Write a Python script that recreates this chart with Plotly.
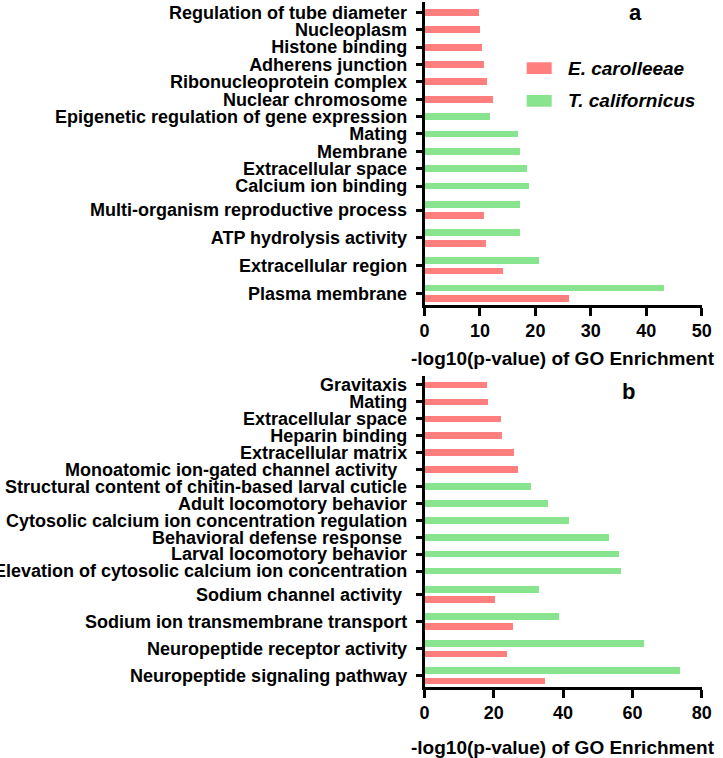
import plotly.graph_objects as go

# ---------------- data ----------------
# Panel a (listed top to bottom)
terms_a = [
    "Regulation of tube diameter", "Nucleoplasm", "Histone binding",
    "Adherens junction", "Ribonucleoprotein complex", "Nuclear chromosome",
    "Epigenetic regulation of gene expression", "Mating", "Membrane",
    "Extracellular space", "Calcium ion binding",
    "Multi-organism reproductive process", "ATP hydrolysis activity",
    "Extracellular region", "Plasma membrane",
]
ec_a = [9.8, 10.0, 10.3, 10.6, 11.2, 12.3, None, None, None, None, None,
        10.6, 11.0, 14.0, 26.0]
tc_a = [None, None, None, None, None, None, 11.7, 16.7, 17.1, 18.4, 18.75,
        17.1, 17.1, 20.5, 43.1]
ticks_a = [0, 10, 20, 30, 40, 50]

# Panel b (listed top to bottom)
terms_b = [
    "Gravitaxis", "Mating", "Extracellular space", "Heparin binding",
    "Extracellular matrix", "Monoatomic ion-gated channel activity\u00a0\u00a0",
    "Structural content of chitin-based larval cuticle",
    "Adult locomotory behavior",
    "Cytosolic calcium ion concentration regulation",
    "Behavioral defense response\u00a0", "Larval locomotory behavior",
    "Elevation of cytosolic calcium ion concentration",
    "Sodium channel activity\u00a0", "Sodium ion transmembrane transport",
    "Neuropeptide receptor activity", "Neuropeptide signaling pathway",
]
ec_b = [18.0, 18.2, 21.8, 22.3, 25.8, 26.8, None, None, None, None, None, None,
        20.2, 25.3, 23.7, 34.6]
tc_b = [None, None, None, None, None, None, 30.7, 35.5, 41.5, 53.0, 55.9, 56.6,
        32.9, 38.6, 63.2, 73.5]
ticks_b = [0, 20, 40, 60, 80]

series_names = ["E. carolleeae", "T. californicus"]
RED = "#FF7F7F"
GREEN = "#88E48E"

# ---------------- layout helpers ----------------
W, H = 723, 758
PAIR_STEP, MIX_STEP, SINGLE_STEP = 1.6, 1.38, 1.0
BAR_W, PAIR_OFF = 0.39, 0.31
FONT = "Liberation Sans, Arial, Helvetica, sans-serif"


def positions(ec, tc):
    n = len(ec)
    pair = [(e is not None and t is not None) for e, t in zip(ec, tc)]
    pos = [0.0] * n
    cur = 0.0
    for i in range(n - 1, -1, -1):
        if i < n - 1:
            if pair[i] and pair[i + 1]:
                cur += PAIR_STEP
            elif pair[i] != pair[i + 1]:
                cur += MIX_STEP
            else:
                cur += SINGLE_STEP
        pos[i] = cur
    return pos, pair


def series_y(vals, pos, pair, off):
    xs, ys = [], []
    for v, p, pr in zip(vals, pos, pair):
        if v is None:
            continue
        xs.append(v)
        ys.append(p + off if pr else p)
    return xs, ys


fig = go.Figure()

panels = [
    dict(terms=terms_a, ec=ec_a, tc=tc_a, ticks=ticks_a, xa="x", ya="y",
         dom_y=(2, 305), top_pad=0.6, label="a", lab_xy=(635, 13),
         title_off=53),
    dict(terms=terms_b, ec=ec_b, tc=tc_b, ticks=ticks_b, xa="x2", ya="y2",
         dom_y=(376, 687), top_pad=0.53, label="b", lab_xy=(628, 391),
         title_off=60),
]

x_dom = [424.5 / W, 701.7 / W]

for k, p in enumerate(panels):
    pos, pair = positions(p["ec"], p["tc"])
    xg, yg = series_y(p["tc"], pos, pair, +PAIR_OFF)
    xr, yr = series_y(p["ec"], pos, pair, -PAIR_OFF)
    fig.add_trace(go.Bar(x=xr, y=yr, orientation="h", width=BAR_W,
                         marker=dict(color=RED, line=dict(width=0)),
                         name=series_names[0], showlegend=False,
                         xaxis=p["xa"], yaxis=p["ya"]))
    fig.add_trace(go.Bar(x=xg, y=yg, orientation="h", width=BAR_W,
                         marker=dict(color=GREEN, line=dict(width=0)),
                         name=series_names[1], showlegend=False,
                         xaxis=p["xa"], yaxis=p["ya"]))
    suffix = "" if k == 0 else "2"
    y0px, y1px = p["dom_y"]
    fig.layout["xaxis" + suffix] = dict(
        domain=x_dom, anchor="y" + suffix, range=[0, p["ticks"][-1]],
        tickvals=p["ticks"], ticks="outside", ticklen=8, tickwidth=2.5,
        tickcolor="black", showline=True, linewidth=2.5, linecolor="black",
        showgrid=False, zeroline=False, automargin=False,
        tickfont=dict(family=FONT, size=18, color="black", weight="bold"),
    )
    fig.layout["yaxis" + suffix] = dict(
        domain=[1 - y1px / H, 1 - y0px / H], anchor="x" + suffix,
        range=[-0.67, max(pos) + p["top_pad"]],
        tickvals=pos, ticktext=p["terms"], ticks="outside", ticklen=6,
        tickwidth=2.5, tickcolor="black", showline=True, linewidth=2.5,
        linecolor="black", showgrid=False, zeroline=False, automargin=False,
        ticklabelstandoff=5,
        tickfont=dict(family=FONT, size=18, color="black", weight="bold"),
    )
    # axis title
    fig.add_annotation(
        text="-log10(p-value) of GO Enrichment", xref="paper", yref="paper",
        x=(x_dom[0] + x_dom[1]) / 2, y=1 - (y1px + p["title_off"]) / H,
        xanchor="center", yanchor="middle", showarrow=False,
        font=dict(family=FONT, size=19, color="black", weight="bold"),
    )
    # panel letter
    fig.add_annotation(
        text=p["label"], xref="paper", yref="paper",
        x=p["lab_xy"][0] / W, y=1 - p["lab_xy"][1] / H,
        xanchor="center", yanchor="middle", showarrow=False,
        font=dict(family=FONT, size=22, color="black", weight="bold"),
    )

# legend (drawn manually)
legend_items = [(series_names[0], RED, 62.3, 74.0),
                (series_names[1], GREEN, 95.0, 106.7)]
for name, col, t, b in legend_items:
    fig.add_shape(type="rect", xref="paper", yref="paper",
                  x0=526.7 / W, x1=551.7 / W, y0=1 - b / H, y1=1 - t / H,
                  fillcolor=col, line=dict(width=0))
    fig.add_annotation(text=name, xref="paper", yref="paper",
                       x=566.0 / W, y=1 - ((t + b) / 2) / H,
                       xanchor="left", yanchor="middle", showarrow=False,
                       font=dict(family=FONT, size=19, color="black",
                                 weight="bold", style="italic"))

fig.update_layout(
    width=W, height=H, margin=dict(l=0, r=0, t=0, b=0),
    plot_bgcolor="white", paper_bgcolor="white", barmode="overlay",
    bargap=0, showlegend=False,
)

fig.write_html("out.html")
